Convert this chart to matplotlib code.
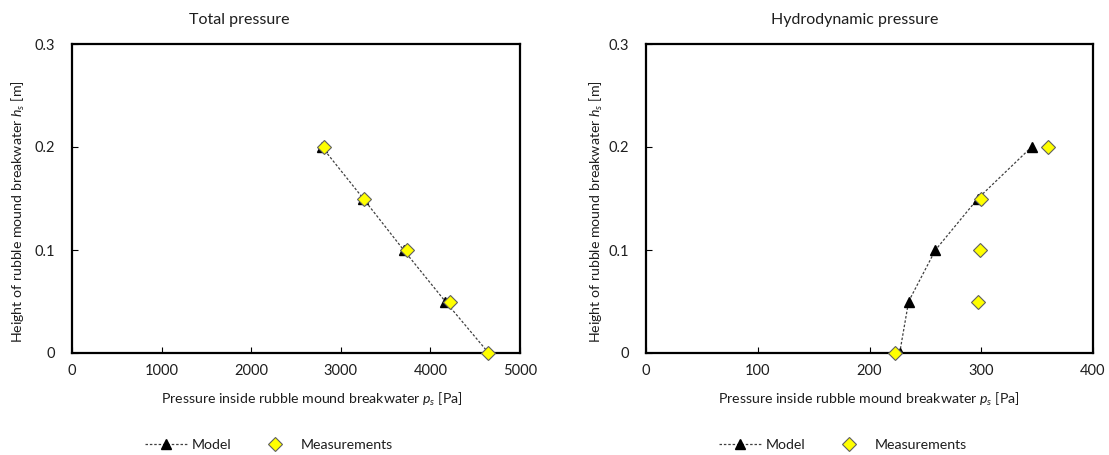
import matplotlib
matplotlib.use("Agg")
import matplotlib.pyplot as plt
from matplotlib.lines import Line2D

plt.rcParams['font.family'] = ['Lato', 'DejaVu Sans']
plt.rcParams['mathtext.fontset'] = 'custom'
plt.rcParams['mathtext.rm'] = 'Lato'
plt.rcParams['mathtext.it'] = 'Lato:italic'

# Heights of the pressure gauges [m]
heights = [0.0, 0.05, 0.10, 0.15, 0.20]

# Total pressure [Pa]
total_model = [4650, 4167, 3701, 3250, 2790]
total_meas = [4644, 4222, 3739, 3254, 2818]

# Hydrodynamic pressure [Pa]
hydro_model = [227, 235, 259, 297, 345]
hydro_meas = [223, 297, 299, 300, 360]

titles = ["Total pressure", "Hydrodynamic pressure"]
x_ticks = [[0, 1000, 2000, 3000, 4000, 5000], [0, 100, 200, 300, 400]]
y_ticks = [0, 0.1, 0.2, 0.3]
y_tick_labels = ["0", "0.1", "0.2", "0.3"]

W, H = 1109, 455
fig = plt.figure(figsize=(W / 100, H / 100), dpi=100)

text_color = "#1e1e1e"


def fx(px):
    return px / W


def fy(py):
    return 1 - py / H


axes_boxes = [(72, 44, 520, 353), (646, 44, 1093, 353)]
title_x = [239, 855]
xlabel_x = [312, 869]
ylabel_x = [18, 596]
legend_x = [269, 843]

series = [(total_model, total_meas), (hydro_model, hydro_meas)]

for i, ((l, t, r, b), (model, meas)) in enumerate(zip(axes_boxes, series)):
    ax = fig.add_axes([fx(l), fy(b), fx(r - l), (b - t) / H])
    ax.plot(model, heights, linestyle=(0, (2, 1.5)), color="#404040", lw=0.9,
            marker="^", markersize=7, markerfacecolor="black",
            markeredgecolor="black", zorder=2)
    ax.plot(meas, heights, linestyle="none", marker="D", markersize=7,
            markerfacecolor="#FFFF00", markeredgecolor="#606060",
            markeredgewidth=0.8, zorder=3, clip_on=False)
    ax.set_xlim(x_ticks[i][0], x_ticks[i][-1])
    ax.set_ylim(0, 0.3)
    ax.set_xticks(x_ticks[i])
    ax.set_xticklabels([str(v) for v in x_ticks[i]])
    ax.set_yticks(y_ticks)
    ax.set_yticklabels(y_tick_labels)
    ax.tick_params(direction="in", length=4, width=0.8, labelsize=10.5,
                   labelcolor=text_color, pad=8)
    ax.tick_params(axis="y", pad=12)
    for s in ax.spines.values():
        s.set_linewidth(1.6)
        s.set_color("black")

    fig.text(fx(title_x[i]), fy(20), titles[i], ha="center", va="center",
             fontsize=11.5, color=text_color)
    fig.text(fx(xlabel_x[i]), fy(399),
             r"Pressure inside rubble mound breakwater $p_s$ [Pa]",
             ha="center", va="center", fontsize=10.2, color=text_color)
    fig.text(fx(ylabel_x[i]), fy(212),
             r"Height of rubble mound breakwater $h_s$ [m]",
             ha="center", va="center", rotation=90, fontsize=10.2,
             color=text_color)

    handles = [
        Line2D([], [], linestyle=(0, (2, 1.5)), color="#404040", lw=0.9,
               marker="^", markersize=7, markerfacecolor="black",
               markeredgecolor="black"),
        Line2D([], [], linestyle="none", marker="D", markersize=7,
               markerfacecolor="#FFFF00", markeredgecolor="#606060",
               markeredgewidth=0.8),
    ]
    fig.legend(handles, ["Model", "Measurements"], loc="center",
               bbox_to_anchor=(fx(legend_x[i]), fy(445)), ncol=2,
               frameon=False, fontsize=10.2, handlelength=3.0,
               handletextpad=0.3, columnspacing=1.6, labelcolor=text_color)

fig.savefig("out.png", dpi=100, facecolor="white")
